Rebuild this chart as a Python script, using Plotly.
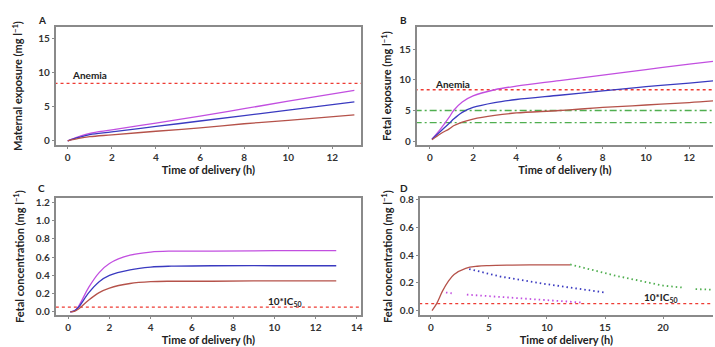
import plotly.graph_objects as go

W, H = 715, 347

# Panel A: maternal exposure
a_t = [0, 0.5, 1, 2, 4, 6, 8, 10, 13]
a_mag = [0, 0.6, 1.1, 1.6, 2.6, 3.6, 4.7, 5.8, 7.4]
a_blue = [0, 0.5, 0.9, 1.3, 2.1, 2.9, 3.7, 4.5, 5.7]
a_red = [0, 0.35, 0.6, 0.87, 1.4, 1.9, 2.5, 3.0, 3.8]
anemia = 8.4

# Panel B: fetal exposure
b_t = [0.1, 0.5, 0.9, 1.1, 1.5, 2, 3, 4, 6, 8, 10, 12, 13.2]
b_mag = [0.3, 2.0, 3.9, 5.0, 6.4, 7.4, 8.4, 9.0, 9.9, 10.8, 11.7, 12.6, 13.1]
b_blue = [0.3, 1.6, 2.9, 3.6, 4.7, 5.5, 6.3, 6.8, 7.5, 8.2, 8.9, 9.5, 9.9]
b_red = [0.2, 1.2, 2.0, 2.5, 3.1, 3.6, 4.2, 4.6, 5.0, 5.5, 5.9, 6.3, 6.6]
b_green_levels = [5, 3]

# Panel C: fetal concentration
c_t = [0.1, 0.3, 0.5, 1, 1.5, 2, 3, 4, 5, 7, 10, 13]
c_mag = [0, 0.01, 0.06, 0.27, 0.43, 0.53, 0.62, 0.655, 0.665, 0.665, 0.67, 0.67]
c_blue = [0, 0.01, 0.05, 0.21, 0.33, 0.40, 0.46, 0.49, 0.50, 0.505, 0.505, 0.505]
c_red = [0, 0.005, 0.03, 0.13, 0.21, 0.26, 0.31, 0.33, 0.335, 0.335, 0.34, 0.34]
ic50x10 = 0.05

# Panel D
d_red_t = [0.1, 0.5, 1, 1.5, 2, 3, 4, 5, 7, 10, 12]
d_red = [0, 0.05, 0.14, 0.21, 0.26, 0.305, 0.32, 0.325, 0.328, 0.33, 0.33]
d_green_t = [12, 16, 20, 21.8, None, 22.8, 24.5]
d_green = [0.333, 0.25, 0.18, 0.165, None, 0.155, 0.15]
d_blue_t = [3.3, 6, 10, 15]
d_blue = [0.30, 0.245, 0.19, 0.13]
d_mag_t = [1.3, 1.8, None, 3.1, 7, 10, 13]
d_mag = [0.13, 0.125, None, 0.115, 0.095, 0.075, 0.058]

MAG = "#c24fe0"
BLUE = "#3a3ac0"
RED = "#b5524a"
DASHRED = "#ee3b33"
GREEN = "#4fae4f"
FONT = "Lato"

fig = go.Figure()


def px_dom(x0, x1, y0, y1):
    return [x0 / W, min(x1 / W, 1.0)], [(H - y1) / H, (H - y0) / H]


def line(x, y, color, xa, ya, dash="solid", width=1.3, shape="spline"):
    fig.add_trace(go.Scatter(x=x, y=y, mode="lines", xaxis=xa, yaxis=ya,
                             line=dict(color=color, width=width, dash=dash, shape=shape),
                             connectgaps=False, showlegend=False, hoverinfo="skip"))


def hline(yv, x0, x1, color, xa, ya, dash):
    line([x0, x1], [yv, yv], color, xa, ya, dash=dash, width=1.3, shape="linear")


DASH = "3px,3px"
DASHDOT = "7px,3px,2px,3px"
DOT = "1.5px,3px"

# A
line(a_t, a_mag, MAG, "x", "y")
line(a_t, a_blue, BLUE, "x", "y")
line(a_t, a_red, RED, "x", "y")
hline(anemia, -0.6, 13.4, DASHRED, "x", "y", DASH)
# B
hline(b_green_levels[0], -0.7, 13.2, GREEN, "x2", "y2", DASHDOT)
hline(b_green_levels[1], -0.7, 13.2, GREEN, "x2", "y2", DASHDOT)
hline(anemia, -0.7, 13.2, DASHRED, "x2", "y2", DASH)
line(b_t, b_mag, MAG, "x2", "y2")
line(b_t, b_blue, BLUE, "x2", "y2")
line(b_t, b_red, RED, "x2", "y2")
# C
hline(ic50x10, -0.6, 14.3, DASHRED, "x3", "y3", DASH)
line(c_t, c_mag, MAG, "x3", "y3")
line(c_t, c_blue, BLUE, "x3", "y3")
line(c_t, c_red, RED, "x3", "y3")
# D
hline(ic50x10, -1, 25, DASHRED, "x4", "y4", DASH)
line(d_red_t, d_red, RED, "x4", "y4")
line(d_green_t, d_green, GREEN, "x4", "y4", dash=DOT, width=1.8, shape="linear")
line(d_blue_t, d_blue, BLUE, "x4", "y4", dash=DOT, width=1.8, shape="linear")
line(d_mag_t, d_mag, MAG, "x4", "y4", dash=DOT, width=1.8, shape="linear")

tickfont = dict(family=FONT, size=10, color="#333", weight="bold")
titlefont = dict(family=FONT, size=11, color="#222", weight="bold")
axbase = dict(showgrid=False, zeroline=False, showline=True, linecolor="#8a8a8a",
              linewidth=2, ticks="outside", ticklen=2, tickcolor="#8a8a8a",
              tickfont=tickfont)

dA = px_dom(56, 362, 23, 143)
dB = px_dom(418, 720, 23, 143)
dC = px_dom(56, 362, 198, 317)
dD = px_dom(421, 720, 198, 317)

XT = "Time of delivery (h)"
fig.update_layout(
    width=W, height=H, margin=dict(l=0, r=0, t=0, b=0),
    paper_bgcolor="white", plot_bgcolor="white",
    xaxis=dict(axbase, domain=dA[0], anchor="y", range=[-0.54, 13.3], tickvals=[0, 2, 4, 6, 8, 10, 12],
               mirror=True, title=dict(text=XT, font=titlefont, standoff=4)),
    yaxis=dict(axbase, domain=dA[1], anchor="x", range=[-0.57, 16.6], tickvals=[0, 5, 10, 15],
               mirror=True, title=dict(text="Maternal exposure (mg l<sup>−1</sup>)", font=titlefont, standoff=13)),
    xaxis2=dict(axbase, domain=dB[0], anchor="y2", range=[-0.6, 13.1], tickvals=[0, 2, 4, 6, 8, 10, 12],
                mirror=True, title=dict(text=XT, font=titlefont, standoff=4)),
    yaxis2=dict(axbase, domain=dB[1], anchor="x2", range=[-0.6, 18.6], tickvals=[0, 5, 10, 15],
                mirror=False, title=dict(text="Fetal exposure (mg l<sup>−1</sup>)", font=titlefont, standoff=5)),
    xaxis3=dict(axbase, domain=dC[0], anchor="y3", range=[-0.6, 14.2], tickvals=[0, 2, 4, 6, 8, 10, 12, 14],
                mirror=True, title=dict(text=XT, font=titlefont, standoff=2)),
    yaxis3=dict(axbase, domain=dC[1], anchor="x3", range=[-0.032, 1.243],
                tickvals=[0, 0.2, 0.4, 0.6, 0.8, 1.0, 1.2], tickformat=".1f",
                mirror=True, title=dict(text="Fetal concentration (mg l<sup>−1</sup>)", font=titlefont, standoff=9)),
    xaxis4=dict(axbase, domain=dD[0], anchor="y4", range=[-0.95, 24.3], tickvals=[0, 5, 10, 15, 20],
                mirror=True, title=dict(text=XT, font=titlefont, standoff=2)),
    yaxis4=dict(axbase, domain=dD[1], anchor="x4", range=[-0.03, 0.81],
                tickvals=[0, 0.2, 0.4, 0.6, 0.8], tickformat=".1f",
                mirror=False, title=dict(text="Fetal concentration (mg l<sup>−1</sup>)", font=titlefont, standoff=5)),
)

lab = dict(family=FONT, size=10, color="#222", weight="bold")
fig.add_annotation(x=0.1, y=9.6, xref="x", yref="y", text="Anemia", showarrow=False,
                   xanchor="left", yanchor="middle", font=lab)
fig.add_annotation(x=0.14, y=9.4, xref="x2", yref="y2", text="Anemia", showarrow=False,
                   xanchor="left", yanchor="middle", font=lab)
fig.add_annotation(x=9.6, y=0.115, xref="x3", yref="y3", text="10*IC<sub>50</sub>", showarrow=False,
                   xanchor="left", yanchor="middle", font=lab)
fig.add_annotation(x=18.2, y=0.093, xref="x4", yref="y4", text="10*IC<sub>50</sub>", showarrow=False,
                   xanchor="left", yanchor="middle", font=lab)

for letter, xp, yp in [("A", 42, 15), ("B", 405, 15), ("C", 42, 187), ("D", 405, 187)]:
    fig.add_annotation(x=xp / W, y=(H - yp) / H, xref="paper", yref="paper", text=letter,
                       showarrow=False, xanchor="center", yanchor="middle",
                       font=dict(family=FONT, size=10, color="#222", weight="bold"))

fig.write_html("out.html", config={"displayModeBar": False},
               post_script="document.body.style.margin='0';document.body.style.overflow='hidden';")
